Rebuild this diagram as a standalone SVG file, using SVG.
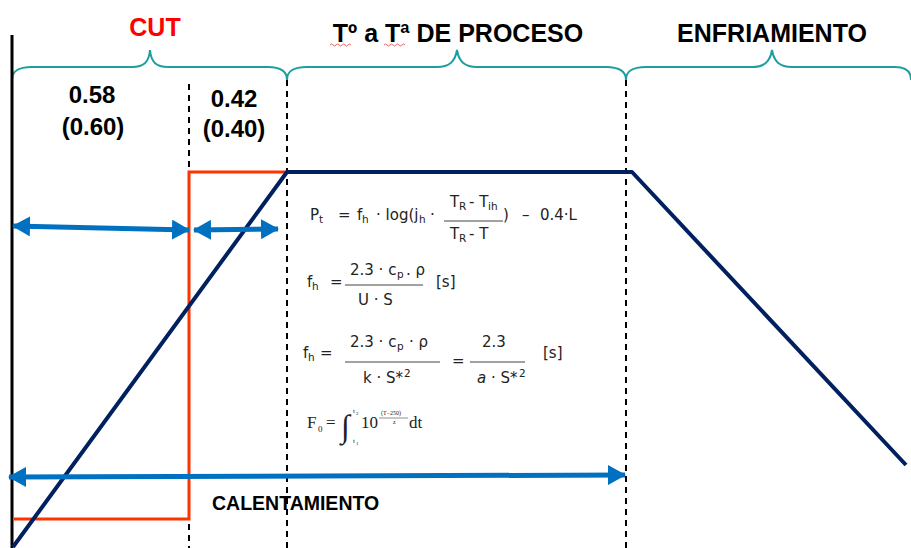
<svg xmlns="http://www.w3.org/2000/svg" width="911" height="548" viewBox="0 0 911 548">
<defs>
<style>
.lbl{font-family:"Liberation Sans",Arial,sans-serif;font-weight:bold;fill:#000}
.brace{fill:none;stroke:#1E9E9E;stroke-width:2}
.dash{stroke:#000;stroke-width:2;stroke-dasharray:6 5;fill:none}
.blue{stroke:#0070C0;stroke-width:5;fill:none;marker-start:url(#ah);marker-end:url(#ah)}
.eq{font-family:"DejaVu Sans",Verdana,sans-serif;font-size:15px;fill:#222}
.sub{font-size:10.5px}
.fl{stroke:#444;stroke-width:1}
.ser{font-family:"Liberation Serif","Times New Roman",serif;fill:#222}
.squig{fill:none;stroke:#E04040;stroke-width:0.8}
</style>
<marker id="ah" viewBox="0 0 18 20" refX="17" refY="10" markerWidth="18" markerHeight="20" markerUnits="userSpaceOnUse" orient="auto-start-reverse">
<path d="M0,0 L18,10 L0,20 Z" fill="#0070C0"/>
</marker>
</defs>
<rect width="911" height="548" fill="#fff"/>

<g id="braces">
<path class="brace" d="M12,80 C12,71 18,67 32,67 L132,67 C144,67 149,62 150,50 C151,62 156,67 168,67 L268,67 C281,67 287,71 287,80"/>
<path class="brace" d="M287,80 C287,71 293,67 307,67 L437,67 C449,67 455,62 457,50 C459,62 465,67 477,67 L606,67 C619,67 626,71 626,80"/>
<path class="brace" d="M626,80 C626,71 632,67 646,67 L752,67 C764,67 770,62 772,50 C774,62 780,67 792,67 L895,67 C906,67 911,71 911,80"/>
</g>

<g id="titles">
<text id="cut" class="lbl" x="155" y="36" font-size="25" text-anchor="middle" style="fill:#FF0000">CUT</text>
<text id="proceso" class="lbl" x="458" y="42" font-size="25" text-anchor="middle">Tº a Tª DE PROCESO</text>
<path class="squig" d="M330,45 q1.5,-2 3,0 t3,0 t3,0 t3,0 t3,0 t3,0 t3,0"/>
<path class="squig" d="M384,45 q1.5,-2 3,0 t3,0 t3,0 t3,0 t3,0 t3,0 t3,0"/>
<text id="enfriamiento" class="lbl" x="772" y="42" font-size="25" text-anchor="middle">ENFRIAMIENTO</text>
</g>

<g id="fractions">
<text class="lbl" x="92" y="103" font-size="24" text-anchor="middle">0.58</text>
<text class="lbl" x="93" y="135" font-size="24" text-anchor="middle">(0.60)</text>
<text class="lbl" x="234" y="107" font-size="24" text-anchor="middle">0.42</text>
<text class="lbl" x="234" y="137" font-size="24" text-anchor="middle">(0.40)</text>
</g>

<g id="guides">
<line x1="12" y1="35" x2="12" y2="548" stroke="#000" stroke-width="3"/>
<line class="dash" x1="189" y1="84" x2="189" y2="548"/>
<line class="dash" x1="287" y1="80" x2="287" y2="548"/>
<line class="dash" x1="626" y1="80" x2="626" y2="548"/>
</g>

<g id="cut-profile">
<polyline points="14,519 189,519 189,172 287,172" fill="none" stroke="#FF3300" stroke-width="3"/>
</g>

<g id="temp-profile">
<polyline points="13,547 287,172 632,172 906,465" fill="none" stroke="#002060" stroke-width="4" stroke-linejoin="round"/>
</g>

<g id="connectors">
<line class="blue" x1="13" y1="226" x2="189" y2="230"/>
<line class="blue" x1="194" y1="230" x2="278" y2="229"/>
<line class="blue" x1="9" y1="477" x2="625" y2="475"/>
</g>

<g id="calentamiento">
<text class="lbl" x="212" y="510" font-size="19.5">CALENTAMIENTO</text>
</g>

<g id="formula1" class="eq">
<text x="310" y="220">P</text><text class="sub" x="319" y="223">t</text>
<text x="338" y="220">=</text>
<text x="357" y="220">f</text><text class="sub" x="362" y="223">h</text>
<text x="376" y="220">· log(j</text><text class="sub" x="419" y="223">h</text>
<text x="430" y="220">·</text>
<text x="450" y="207">T</text><text class="sub" x="459" y="210">R</text><text x="469" y="207">- T</text><text class="sub" x="488" y="210">ih</text>
<line class="fl" x1="444" y1="221" x2="503" y2="221"/>
<text x="503" y="220">)</text>
<text x="522" y="220">–</text>
<text x="540" y="220">0.4·L</text>
<text x="450" y="239">T</text><text class="sub" x="459" y="242">R</text><text x="469" y="239">- T</text>
</g>

<g id="formula2" class="eq">
<text x="307" y="287">f</text><text class="sub" x="312" y="290">h</text>
<text x="330" y="287">=</text>
<text x="350" y="275">2.3 · c</text><text class="sub" x="397" y="278">p</text><text x="406" y="275">. ρ</text>
<line class="fl" x1="345" y1="285" x2="423" y2="285"/>
<text x="358" y="305">U · S</text>
<text x="436" y="287">[s]</text>
</g>

<g id="formula3" class="eq">
<text x="303" y="358">f</text><text class="sub" x="308" y="361">h</text>
<text x="320" y="358">=</text>
<text x="350" y="347">2.3 · c</text><text class="sub" x="397" y="350">p</text><text x="409" y="347">· ρ</text>
<line class="fl" x1="345" y1="362" x2="440" y2="362"/>
<text x="363" y="383">k · S*</text><text class="sub" x="404" y="377">2</text>
<text x="452" y="366">=</text>
<text x="482" y="347">2.3</text>
<line class="fl" x1="470" y1="362" x2="525" y2="362"/>
<text x="477" y="383"><tspan font-style="italic">a</tspan> · S*</text><text class="sub" x="519" y="377">2</text>
<text x="543" y="358">[s]</text>
</g>

<g id="formula4" class="ser">
<text x="307" y="428" font-size="17">F</text><text x="318" y="432" font-size="9">0</text>
<text x="326" y="428" font-size="17">=</text>
<text x="341" y="437" font-size="32">∫</text>
<text x="353" y="413" font-size="7">t</text><text x="356" y="415" font-size="5">2</text>
<text x="353" y="443" font-size="7">t</text><text x="356" y="445" font-size="5">1</text>
<text x="361" y="428" font-size="17">10</text>
<text x="381" y="415" font-size="6">(T−250)</text>
<line x1="379" y1="418" x2="408" y2="418" stroke="#444" stroke-width="0.6"/>
<text x="393" y="424" font-size="6">z</text>
<text x="409" y="428" font-size="17">dt</text>
</g>
</svg>
